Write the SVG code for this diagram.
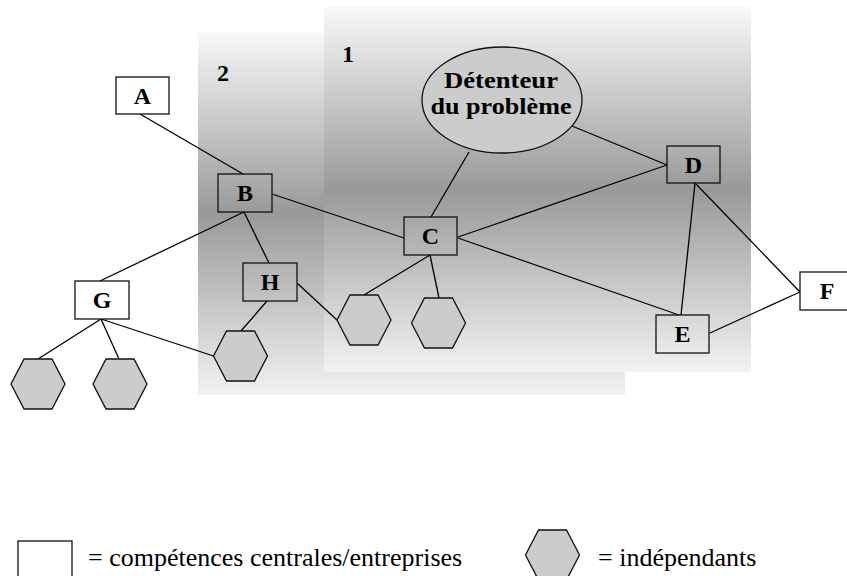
<svg xmlns="http://www.w3.org/2000/svg" width="847" height="576" viewBox="0 0 847 576">
  <defs>
    <linearGradient id="zoneShade" x1="0" y1="0" x2="0" y2="1">
      <stop offset="0" stop-color="#f8f8f8"/>
      <stop offset="0.5" stop-color="#999999"/>
      <stop offset="1" stop-color="#f2f2f2"/>
    </linearGradient>
    <polygon id="hex" points="-27,0 -14,-25 14,-25 27,0 14,25 -14,25"/>
  </defs>
  <style>
    .zone { fill: url(#zoneShade); stroke: none; }
    .box { fill: none; stroke: #111; stroke-width: 1.3; }
    .boxw { fill: #ffffff; stroke: #111; stroke-width: 1.3; }
    .hexa { fill: #cccccc; stroke: #111; stroke-width: 1.3; }
    .lbl { font-family: "Liberation Serif", "Times New Roman", serif; font-weight: bold; font-size: 24px; fill: #000; text-anchor: middle; }
    .big { font-family: "Liberation Serif", "Times New Roman", serif; font-weight: bold; font-size: 23px; fill: #000; text-anchor: middle; }
    .num { font-family: "Liberation Serif", "Times New Roman", serif; font-weight: bold; font-size: 24px; fill: #000; }
    .leg { font-family: "Liberation Serif", "Times New Roman", serif; font-size: 26px; fill: #000; }
    .conn line { stroke: #000; stroke-width: 1.3; }
  </style>

  <rect width="847" height="576" fill="#ffffff"/>

  <!-- shaded zones: 2 (outer) behind 1 (inner) -->
  <g id="zone2">
    <rect class="zone" x="198" y="32" width="427" height="363"/>
    <text class="num" x="217" y="81">2</text>
  </g>
  <g id="zone1">
    <rect class="zone" x="324" y="7" width="427" height="365"/>
    <text class="num" x="342" y="62">1</text>
  </g>

  <g id="connectors" class="conn">
    <line x1="140" y1="114" x2="243" y2="174"/>
    <line x1="272" y1="194" x2="404" y2="238"/>
    <line x1="244" y1="212" x2="100" y2="281"/>
    <line x1="244" y1="212" x2="269" y2="263"/>
    <line x1="267" y1="301" x2="241" y2="331"/>
    <line x1="297" y1="283" x2="337" y2="320"/>
    <line x1="101" y1="319" x2="38" y2="359"/>
    <line x1="101" y1="319" x2="119" y2="359"/>
    <line x1="101" y1="319" x2="213.5" y2="356"/>
    <line x1="431" y1="217" x2="469" y2="152"/>
    <line x1="430" y1="255" x2="364" y2="295"/>
    <line x1="430" y1="255" x2="439" y2="298"/>
    <line x1="458" y1="237" x2="667" y2="165"/>
    <line x1="458" y1="238" x2="679" y2="315"/>
    <line x1="572" y1="126" x2="667" y2="165"/>
    <line x1="695" y1="183" x2="681" y2="315"/>
    <line x1="695" y1="183" x2="800" y2="292"/>
    <line x1="710" y1="333" x2="800" y2="292"/>
  </g>

  <g id="owner">
    <ellipse cx="502" cy="100" rx="80" ry="53" fill="#cccccc" stroke="#111" stroke-width="1.3"/>
    <text class="big" x="501" y="88" textLength="114" lengthAdjust="spacingAndGlyphs">Détenteur</text>
    <text class="big" x="501" y="114" textLength="141" lengthAdjust="spacingAndGlyphs">du problème</text>
  </g>

  <g id="nodeA"><rect class="boxw" x="116" y="77" width="53" height="37"/><text class="lbl" x="142.5" y="104">A</text></g>
  <g id="nodeB"><rect class="box" x="218" y="174" width="54" height="38"/><text class="lbl" x="245" y="201">B</text></g>
  <g id="nodeC"><rect class="box" x="404" y="217" width="53" height="38"/><text class="lbl" x="430.5" y="244">C</text></g>
  <g id="nodeD"><rect class="box" x="667" y="146" width="53" height="37"/><text class="lbl" x="693.5" y="173">D</text></g>
  <g id="nodeE"><rect class="box" x="656" y="315" width="53" height="38"/><text class="lbl" x="682.5" y="342">E</text></g>
  <g id="nodeF"><rect class="boxw" x="800" y="272" width="54" height="38"/><text class="lbl" x="827" y="299">F</text></g>
  <g id="nodeG"><rect class="boxw" x="75" y="281" width="54" height="38"/><text class="lbl" x="102" y="308">G</text></g>
  <g id="nodeH"><rect class="box" x="243" y="263" width="54" height="38"/><text class="lbl" x="270" y="290">H</text></g>

  <g id="freelance1"><use href="#hex" class="hexa" x="38" y="384"/></g>
  <g id="freelance2"><use href="#hex" class="hexa" x="120" y="384"/></g>
  <g id="freelance3"><use href="#hex" class="hexa" x="240.5" y="356"/></g>
  <g id="freelance4"><use href="#hex" class="hexa" x="364" y="320"/></g>
  <g id="freelance5"><use href="#hex" class="hexa" x="438.5" y="323"/></g>

  <g id="legend">
    <rect class="boxw" x="18" y="541" width="54" height="45"/>
    <text class="leg" x="88" y="566">= compétences centrales/entreprises</text>
    <use href="#hex" class="hexa" x="552.5" y="555"/>
    <text class="leg" x="598" y="566">= indépendants</text>
  </g>
</svg>
